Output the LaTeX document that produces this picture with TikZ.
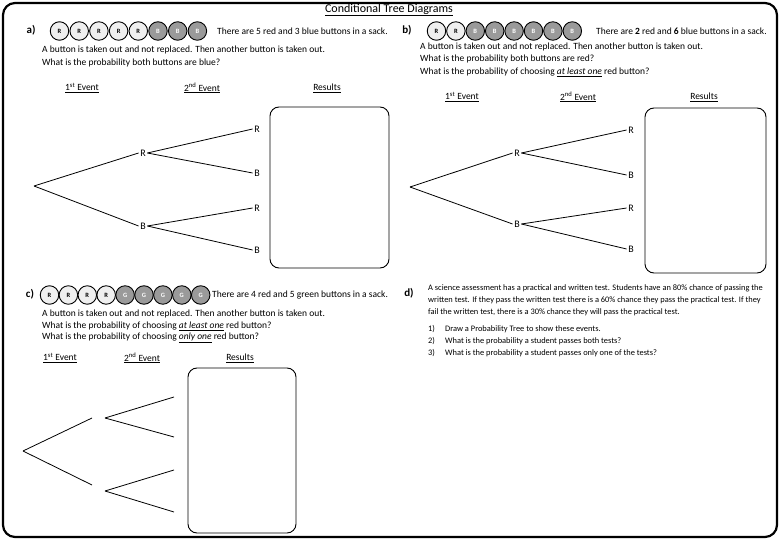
\documentclass[tikz,border=0pt]{standalone}
\usepackage{fontspec}
\setmainfont{Carlito}
\definecolor{btnlight}{HTML}{EFEFEF}
\definecolor{btngrey}{HTML}{9A9A9A}
\begin{document}
\begin{tikzpicture}[x=1pt,y=-1pt,
  font=\fontsize{9.5}{11}\selectfont,
  txt/.style={anchor=west, inner sep=0pt},
  small/.style={anchor=west, inner sep=0pt, font=\fontsize{8.4}{9}\selectfont},
  part/.style={inner sep=0pt, font=\fontsize{11}{11}\selectfont\bfseries},
  lbl/.style={inner sep=1.5pt, font=\fontsize{10}{11}\selectfont},
  redbtn/.style={circle, draw, line width=0.9pt, fill=btnlight, minimum size=18.5pt, inner sep=0pt, font=\fontsize{6.5}{7}\selectfont\bfseries},
  bluebtn/.style={redbtn, fill=btngrey, text=white},
  resbox/.style={draw, line width=0.9pt, rounded corners=9pt},
  branch/.style={line width=0.8pt}]
\useasboundingbox (0,0) rectangle (780,540);
\draw[line width=2.2pt, rounded corners=12pt] (3,3) rectangle (777,537);

\node[inner sep=0pt, font=\fontsize{12}{13}\selectfont] (title) at (389,10) {\underline{Conditional Tree Diagrams}};

% ---------------- a ----------------
\node[part] (apart) at (31,30) {a)};
\foreach \i in {0,...,4} \node[redbtn] (ab\i) at ({59.5+19.7*\i},31) {R};
\foreach \i in {5,6,7} \node[bluebtn] (ab\i) at ({59.5+19.7*\i},31) {B};
\node[txt] (asack) at (217,31) {There are 5 red and 3 blue buttons in a sack.};
\node[txt] (aq1) at (42,50) {A button is taken out and not replaced. Then another button is taken out.};
\node[txt] (aq2) at (42,63) {What is the probability both buttons are blue?};
\node[inner sep=0pt] (ah1) at (82,88) {\underline{1\textsuperscript{st} Event}};
\node[inner sep=0pt] (ah2) at (202,88) {\underline{2\textsuperscript{nd} Event}};
\node[inner sep=0pt] (ah3) at (327,88) {\underline{Results}};
\coordinate (aroot) at (34,186);
\node[lbl] (aR) at (143,153) {R};
\node[lbl] (aB) at (143,226) {B};
\node[lbl] (aRR) at (257,129) {R};
\node[lbl] (aRB) at (257,173) {B};
\node[lbl] (aBR) at (257,208) {R};
\node[lbl] (aBB) at (257,250) {B};
\draw[branch] (aroot) -- (aR.west);
\draw[branch] (aroot) -- (aB.west);
\draw[branch] (aR.east) -- (aRR.west);
\draw[branch] (aR.east) -- (aRB.west);
\draw[branch] (aB.east) -- (aBR.west);
\draw[branch] (aB.east) -- (aBB.west);
\draw[resbox] (270,107) rectangle (389,268);

% ---------------- b ----------------
\node[part] (bpart) at (407,30) {b)};
\foreach \i in {0,1} \node[redbtn] (bb\i) at ({436.5+19.4*\i},31) {R};
\foreach \i in {2,...,7} \node[bluebtn] (bb\i) at ({436.5+19.4*\i},31) {B};
\node[txt] (bsack) at (596,31) {There are \textbf{2} red and \textbf{6} blue buttons in a sack.};
\node[txt] (bq1) at (420,47) {A button is taken out and not replaced. Then another button is taken out.};
\node[txt] (bq2) at (420,59) {What is the probability both buttons are red?};
\node[txt] (bq3) at (420,72) {What is the probability of choosing \underline{\textit{at least one}} red button?};
\node[inner sep=0pt] (bh1) at (462,97) {\underline{1\textsuperscript{st} Event}};
\node[inner sep=0pt] (bh2) at (578,97) {\underline{2\textsuperscript{nd} Event}};
\node[inner sep=0pt] (bh3) at (704,97) {\underline{Results}};
\coordinate (broot) at (410,187);
\node[lbl] (bR) at (517,153) {R};
\node[lbl] (bB) at (517,224) {B};
\node[lbl] (bRR) at (631,130) {R};
\node[lbl] (bRB) at (631,175) {B};
\node[lbl] (bBR) at (631,208) {R};
\node[lbl] (bBB) at (631,249) {B};
\draw[branch] (broot) -- (bR.west);
\draw[branch] (broot) -- (bB.west);
\draw[branch] (bR.east) -- (bRR.west);
\draw[branch] (bR.east) -- (bRB.west);
\draw[branch] (bB.east) -- (bBR.west);
\draw[branch] (bB.east) -- (bBB.west);
\draw[resbox] (645,108) rectangle (766,273);

% ---------------- c ----------------
\node[part] (cpart) at (30,294) {c)};
\foreach \i in {0,...,3} \node[redbtn] (cb\i) at ({49.5+18.9*\i},295) {R};
\foreach \i in {4,...,8} \node[bluebtn] (cb\i) at ({49.5+18.9*\i},295) {G};
\node[txt] (csack) at (212,295) {There are 4 red and 5 green buttons in a sack.};
\node[txt] (cq1) at (42,314) {A button is taken out and not replaced. Then another button is taken out.};
\node[txt] (cq2) at (42,326) {What is the probability of choosing \underline{\textit{at least one}} red button?};
\node[txt] (cq3) at (42,338) {What is the probability of choosing \underline{\textit{only one}} red button?};
\node[inner sep=0pt] (ch1) at (60,358) {\underline{1\textsuperscript{st} Event}};
\node[inner sep=0pt] (ch2) at (142,358) {\underline{2\textsuperscript{nd} Event}};
\node[inner sep=0pt] (ch3) at (240,358) {\underline{Results}};
\coordinate (croot) at (23,451);
\coordinate (cU) at (92,418);
\coordinate (cL) at (92,485);
\coordinate (cUs) at (105,418);
\coordinate (cLs) at (105,491);
\coordinate (cUU) at (174,397);
\coordinate (cUL) at (174,437);
\coordinate (cLU) at (174,470);
\coordinate (cLL) at (174,512);
\draw[branch] (croot) -- (cU);
\draw[branch] (croot) -- (cL);
\draw[branch] (cUs) -- (cUU);
\draw[branch] (cUs) -- (cUL);
\draw[branch] (cLs) -- (cLU);
\draw[branch] (cLs) -- (cLL);
\draw[resbox] (188,368) rectangle (296,533);

% ---------------- d ----------------
\node[part] (dpart) at (409,293) {d)};
\node[small] (dq1) at (428,288) {A science assessment has a practical and written test. Students have an 80\% chance of passing the};
\node[small] (dq2) at (428,300) {written test. If they pass the written test there is a 60\% chance they pass the practical test. If they};
\node[small] (dq3) at (428,312) {fail the written test, there is a 30\% chance they will pass the practical test.};
\node[small] (dn1) at (428,329) {1)};
\node[small] (dn2) at (428,341) {2)};
\node[small] (dn3) at (428,353) {3)};
\node[small] (dt1) at (445,329) {Draw a Probability Tree to show these events.};
\node[small] (dt2) at (445,341) {What is the probability a student passes both tests?};
\node[small] (dt3) at (445,353) {What is the probability a student passes only one of the tests?};
\end{tikzpicture}
\end{document}
